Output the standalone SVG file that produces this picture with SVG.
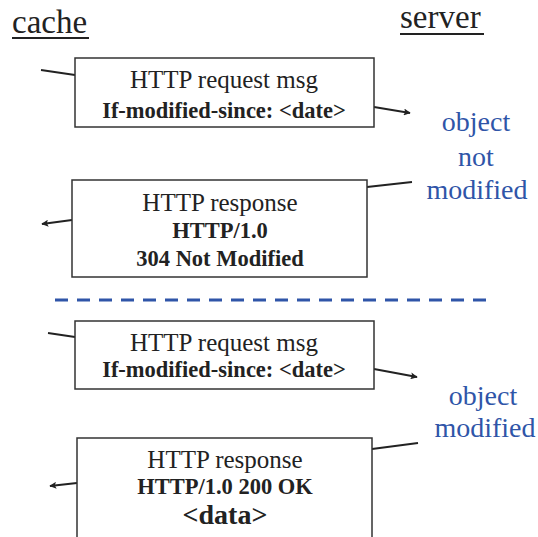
<svg xmlns="http://www.w3.org/2000/svg" width="538" height="537" viewBox="0 0 538 537">
<defs>
<style>
.box{fill:#fff;stroke:#333;stroke-width:1.5}
.t{font-family:"Liberation Serif","Times New Roman",serif;fill:#222;text-anchor:middle}
.r{font-size:25px}
.b{font-size:22.5px;font-weight:bold}
.blue{font-family:"Liberation Serif","Times New Roman",serif;fill:#2f55a8;font-size:28px;text-anchor:middle}
.hdr{font-family:"Liberation Serif","Times New Roman",serif;fill:#222;font-size:33px}
.ln{stroke:#222;stroke-width:1.8;fill:none}
</style>
<marker id="ah2" viewBox="0 0 10 10" refX="9" refY="5" markerWidth="9" markerHeight="7" orient="auto" markerUnits="userSpaceOnUse">
<path d="M0,0 L10,5 L0,10 L2,5 z" fill="#222"/>
</marker>
</defs>
<g id="cache-label">
<text class="hdr" x="12" y="33">cache</text>
<line x1="12" y1="38" x2="89" y2="38" stroke="#222" stroke-width="2"/>
</g>
<g id="server-label">
<text class="hdr" x="400" y="28">server</text>
<line x1="400" y1="34" x2="484" y2="34" stroke="#222" stroke-width="2"/>
</g>
<g id="connectors">
<line class="ln" x1="41" y1="70" x2="75" y2="75"/>
<line class="ln" x1="374" y1="107" x2="410" y2="113" marker-end="url(#ah2)"/>
<line class="ln" x1="412" y1="182" x2="367" y2="187"/>
<line class="ln" x1="72" y1="220" x2="42" y2="224" marker-end="url(#ah2)"/>
<line x1="55" y1="300" x2="490" y2="300" stroke="#2f55a8" stroke-width="3" stroke-dasharray="13 9"/>
<line class="ln" x1="48" y1="333" x2="75" y2="337"/>
<line class="ln" x1="374" y1="369" x2="417" y2="377" marker-end="url(#ah2)"/>
<line class="ln" x1="418" y1="443" x2="372" y2="449"/>
<line class="ln" x1="77" y1="483" x2="50" y2="486" marker-end="url(#ah2)"/>
</g>
<g id="req1">
<rect class="box" x="75" y="58" width="299" height="69"/>
<text class="t r" x="224" y="88">HTTP request msg</text>
<text class="t b" x="224" y="118">If-modified-since: &lt;date&gt;</text>
</g>
<g id="resp1">
<rect class="box" x="72" y="180" width="295" height="97"/>
<text class="t r" x="220" y="211">HTTP response</text>
<text class="t b" x="220" y="238">HTTP/1.0</text>
<text class="t b" x="220" y="266">304 Not Modified</text>
</g>
<g id="note1">
<text class="blue" x="476" y="131">object</text>
<text class="blue" x="476" y="166">not</text>
<text class="blue" x="477" y="199">modified</text>
</g>
<g id="req2">
<rect class="box" x="75" y="321" width="299" height="68"/>
<text class="t r" x="224" y="351">HTTP request msg</text>
<text class="t b" x="224" y="377">If-modified-since: &lt;date&gt;</text>
</g>
<g id="note2">
<text class="blue" x="483" y="405">object</text>
<text class="blue" x="485" y="437">modified</text>
</g>
<g id="resp2">
<rect class="box" x="77" y="438" width="295" height="110"/>
<text class="t r" x="225" y="468">HTTP response</text>
<text class="t b" x="225" y="494">HTTP/1.0 200 OK</text>
<text class="t" x="225" y="524" style="font-size:28px;font-weight:bold">&lt;data&gt;</text>
</g>
</svg>
